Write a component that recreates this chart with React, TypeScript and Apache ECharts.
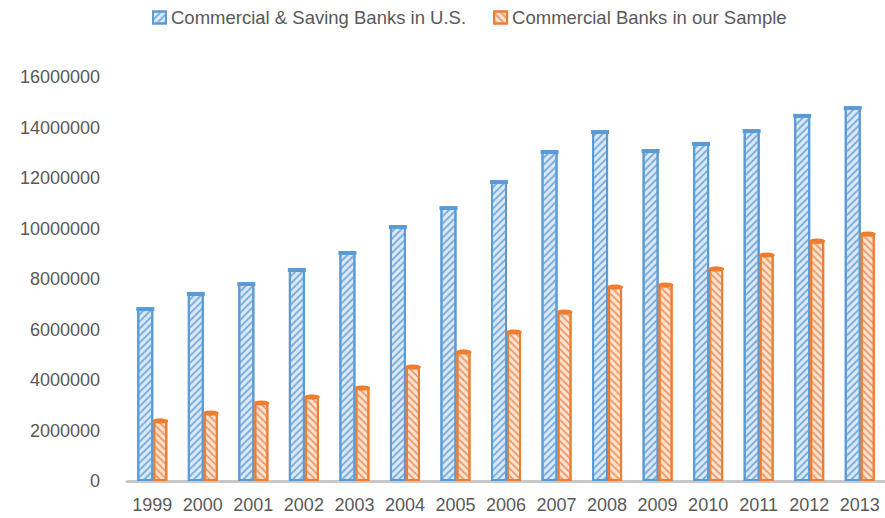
import React, { useEffect, useRef } from "react";
import * as echarts from "echarts";

const years = ["1999", "2000", "2001", "2002", "2003", "2004", "2005", "2006", "2007", "2008", "2009", "2010", "2011", "2012", "2013"];
const usBanks = [6810000, 7410000, 7800000, 8360000, 9030000, 10060000, 10810000, 11840000, 13030000, 13820000, 13070000, 13350000, 13860000, 14460000, 14770000];
const sampleBanks = [2380000, 2690000, 3090000, 3330000, 3680000, 4510000, 5110000, 5900000, 6690000, 7680000, 7760000, 8400000, 8950000, 9500000, 9780000];
const seriesNames = ["Commercial & Saving Banks in U.S.", "Commercial Banks in our Sample"];

const FONT = '"Liberation Sans", Arial, Helvetica, sans-serif';

export default function App() {
  const ref = useRef<HTMLDivElement>(null);
  useEffect(() => {
    if (!ref.current) return;
    const chart = echarts.init(ref.current, undefined, { renderer: "svg" });
    chart.setOption({
      animation: false,
      backgroundColor: "#ffffff",
      textStyle: { fontFamily: FONT },
      legend: {
        left: 152,
        top: 8,
        padding: 0,
        itemWidth: 13,
        itemHeight: 12,
        itemGap: 27,
        icon: "rect",
        textStyle: { fontSize: 18.5, color: "#595959", fontFamily: FONT },
        data: seriesNames,
      },
      grid: { left: 127, top: 77, width: 762, height: 404, containLabel: false },
      xAxis: {
        type: "category",
        data: years,
        axisLine: { show: true, lineStyle: { color: "#c8c8c8", width: 3 } },
        axisTick: { show: false },
        axisLabel: { interval: 0, fontSize: 18, color: "#595959", margin: 15, fontFamily: FONT },
        splitLine: { show: false },
      },
      yAxis: {
        type: "value",
        min: 0,
        max: 16000000,
        interval: 2000000,
        axisLine: { show: false },
        axisTick: { show: false },
        splitLine: { show: false },
        axisLabel: {
          fontSize: 18,
          color: "#595959",
          margin: 27,
          fontFamily: FONT,
          formatter: (v: number) => String(v),
        },
      },
      series: [
        {
          name: seriesNames[0],
          type: "bar",
          data: usBanks,
          barWidth: 16,
          barGap: "0%",
          itemStyle: {
            color: "#dbe9f7",
            borderColor: "#5b9bd5",
            borderWidth: 2,
            decal: {
              symbol: "rect",
              symbolSize: 1,
              dashArrayX: [1, 0],
              dashArrayY: [1.5, 2.5],
              rotation: -Math.PI / 4,
              color: "#7fb0e0",
            },
          },
        },
        {
          name: seriesNames[1],
          type: "bar",
          data: sampleBanks,
          barWidth: 14,
          barGap: "0%",
          itemStyle: {
            color: "#fbe3d3",
            borderColor: "#ed7d31",
            borderWidth: 2,
            decal: {
              symbol: "rect",
              symbolSize: 1,
              dashArrayX: [1, 0],
              dashArrayY: [1.5, 2.5],
              rotation: Math.PI / 4,
              color: "#f0a070",
            },
          },
        },
        {
          name: "usCap",
          type: "pictorialBar",
          data: usBanks,
          symbol: "rect",
          symbolSize: [18, 4],
          symbolPosition: "end",
          symbolOffset: [-7, "-50%"],
          itemStyle: { color: "#5b9bd5" },
          z: 5,
          silent: true,
        },
        {
          name: "sampleCap",
          type: "pictorialBar",
          data: sampleBanks,
          symbol: "circle",
          symbolSize: [16, 5],
          symbolPosition: "end",
          symbolOffset: [8, "-50%"],
          itemStyle: { color: "#ed7d31" },
          z: 5,
          silent: true,
        },
      ],
    });
    return () => chart.dispose();
  }, []);
  return (
    <div
      ref={ref}
      style={{ position: "fixed", left: 0, top: 0, width: 885, height: 518, background: "#fff" }}
    />
  );
}
